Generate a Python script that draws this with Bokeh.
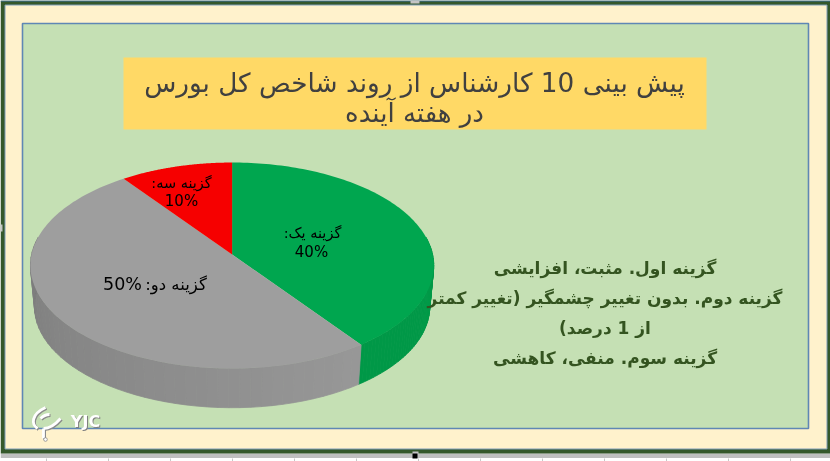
import math
from bokeh.plotting import figure
from bokeh.models import Range1d
from bokeh.core.properties import value
from bokeh.embed import file_html
from bokeh.resources import INLINE

RLE, PDF = "\u202b", "\u202c"
categories = ["گزینه یک:", "گزینه دو:", "گزینه سه:"]
shares = [40, 50, 10]
top_colors = ["#00A64F", "#9E9E9E", "#F60000"]
title_lines = ["پیش بینی 10 کارشناس از روند شاخص کل بورس", "در هفته آینده"]
note_lines = ["گزینه اول. مثبت، افزایشی",
              "گزینه دوم. بدون تغییر چشمگیر (تغییر کمتر",
              "از 1 درصد)",
              "گزینه سوم. منفی، کاهشی"]

W, H = 830, 461
p = figure(width=W, height=H, output_backend="svg", toolbar_location=None,
           x_range=Range1d(0, W), y_range=Range1d(H, 0),
           x_axis_type=None, y_axis_type=None, min_border=0,
           outline_line_color=None, background_fill_color=None, border_fill_color=None)
p.grid.visible = False
p.styles = {"position": "fixed", "left": "0", "top": "0"}

def rect(x0, y0, x1, y1, **kw):
    p.patch([x0, x1, x1, x0], [y0, y0, y1, y1], **kw)

# sheet behind the slide
rect(0, 453, 830, 457.5, fill_color="#BFBFBF", line_color=None)
p.segment([46 + 62 * k for k in range(13)], [458] * 13, [46 + 62 * k for k in range(13)], [461] * 13,
          line_color="#C8C8C8", line_width=1)

# slide frame and panels
rect(0, 0, 830, 453, fill_color="#35582B", line_color=None)
rect(0, 0, 830, 1, fill_color="#3F6E9E", line_color=None)
rect(4.5, 4.5, 826.5, 448.5, fill_color="#FFF2CC", line_color="#7F9DB9", line_width=1)
rect(22, 23, 808, 428, fill_color="#C5E0B4", line_color="#5F87B5", line_width=1.6)
rect(123, 57, 706, 129, fill_color="#FFD966", line_color=None)
rect(410, 0, 419, 3, fill_color="#C4C4C4", line_color=None)
rect(0, 224, 2, 231, fill_color="#C4C4C4", line_color=None)
rect(412, 451, 418, 455, fill_color="#C4C4C4", line_color=None)
rect(412, 453, 417, 458, fill_color="#000000", line_color=None)

# perspective disc
CX, CY, A, B, K = 231.6, 254.0, 200.5, 101.8, 0.107
DEPTH_CY, DEPTH_S = 295.5, 0.98

def top_pt(t):
    u, v = math.sin(t), math.cos(t)
    w = 1 + K * v
    return CX + A * u / w, CY - B * v / w

def low_pt(t):
    u, v = math.sin(t), math.cos(t)
    w = 1 + K * v
    return CX + DEPTH_S * A * u / w, DEPTH_CY - DEPTH_S * B * v / w

total = sum(shares)
bounds = [0.0]
for s in shares:
    bounds.append(bounds[-1] + s / total * 2 * math.pi)

def shade(color_index, t):
    d = math.degrees(t)
    if color_index == 0:
        f = (d - 80) / 64
        return "#%02x%02x%02x" % (0, int(154 - 2 * f), int(72 - 1 * f))
    if color_index == 1:
        g = int(125 + 27 * (275 - d) / 131)
        return "#%02x%02x%02x" % (g, g, g)
    return "#808080"

N = 48
for i in range(3):
    a0, a1 = bounds[i], bounds[i + 1]
    lo, hi = max(a0, math.radians(80)), min(a1, math.radians(280))
    if hi <= lo:
        continue
    for j in range(N):
        t0 = lo + (hi - lo) * j / N
        t1 = lo + (hi - lo) * (j + 1) / N
        pts = [top_pt(t0), top_pt(t1), low_pt(t1), low_pt(t0)]
        c = shade(i, (t0 + t1) / 2)
        p.patch([q[0] for q in pts], [q[1] for q in pts], fill_color=c, line_color=c, line_width=0.8)

for i in range(3):
    a0, a1 = bounds[i], bounds[i + 1]
    pts = [top_pt(a0 + (a1 - a0) * j / 120) for j in range(121)]
    p.patch([CX] + [q[0] for q in pts], [CY] + [q[1] for q in pts], fill_color=top_colors[i], line_color=None)

def txt(x, y, s, size, color, style="normal", font="DejaVu Sans"):
    p.text([x], [y], text=[s], text_font=value(font), text_font_size=f"{size}px",
           text_color=color, text_align="center", text_baseline="middle", text_font_style=style)

def rtl(s):
    return RLE + s + PDF

# slice labels
txt(312, 232, rtl(categories[0]), 14.5, "#000000")
txt(311, 251, f"{shares[0]}%", 15, "#000000")
txt(175.5, 284, rtl(categories[1]), 16.5, "#000000")
txt(122, 283, f"{shares[1]}%", 17.5, "#000000")
txt(181, 182, rtl(categories[2]), 14.5, "#000000")
txt(181, 200, f"{shares[2]}%", 15, "#000000")

# title
txt(414, 82, rtl(title_lines[0]), 26.3, "#404040")
txt(414, 112, rtl(title_lines[1]), 26, "#404040")

# option notes
for ln, y in zip(note_lines, [267, 297, 327, 357]):
    txt(604.5, y, rtl(ln), 17, "#345420", style="bold")

# watermark
def logo(dx, color, lw):
    p.bezier([45 + dx, 60 + dx, 43 + dx], [407 + dx, 418 + dx, 428 + dx],
             [37 + dx, 43 + dx, 43 + dx], [428 + dx, 428 + dx, 438 + dx],
             [30 + dx, 54 + dx, 43 + dx], [414 + dx, 425 + dx, 431 + dx],
             [31 + dx, 48 + dx, 43 + dx], [424 + dx, 428 + dx, 435 + dx],
             line_color=color, line_width=lw)
    p.bezier([40 + dx], [418 + dx], [49 + dx], [414 + dx], [43 + dx], [415 + dx], [46 + dx], [414 + dx],
             line_color=color, line_width=lw)
logo(1, "#8A8A8A", 3)
logo(0, "#FFFFFF", 2.8)
p.circle([45], [439], radius=1.8, fill_color="#FFFFFF", line_color="#8A8A8A", line_width=0.8)
txt(86, 422, "YJC", 16, "#7F7F7F", style="bold")
txt(85, 421, "YJC", 16, "#FFFFFF", style="bold")

open("out.html", "w").write(file_html(p, INLINE))
